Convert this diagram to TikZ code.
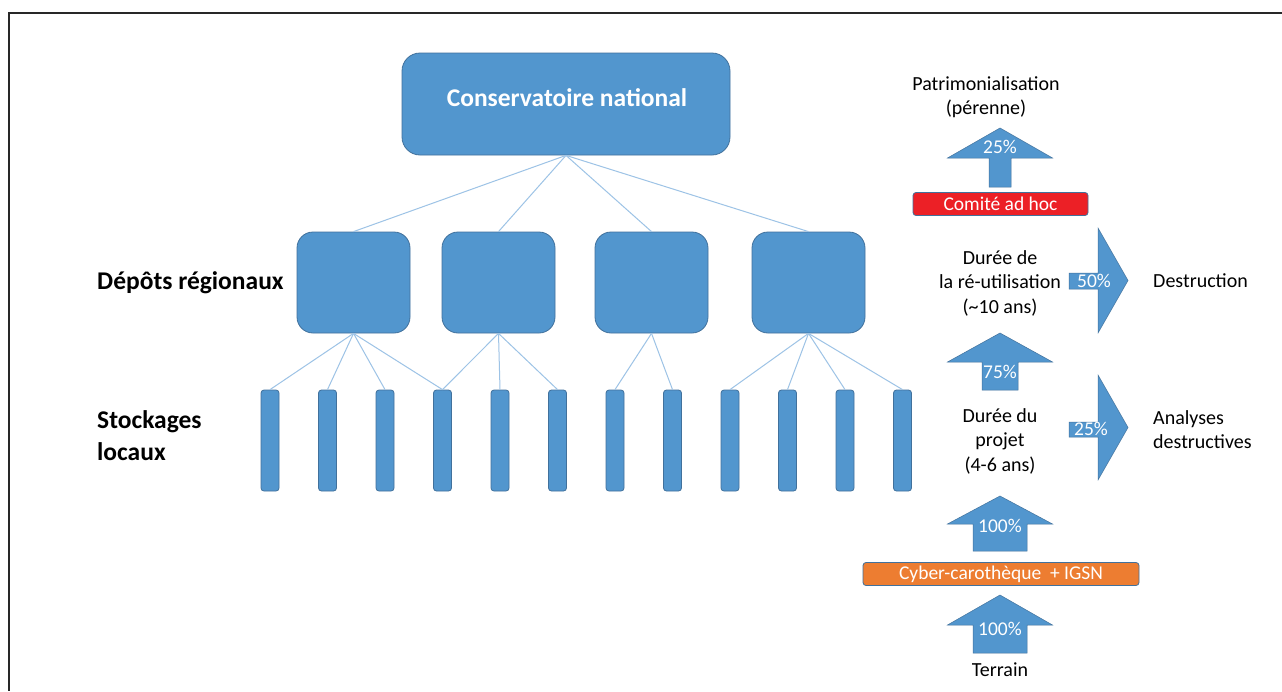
\documentclass[tikz,border=0pt]{standalone}
\usepackage{fontspec}
\setmainfont{Carlito}
\definecolor{cblue}{RGB}{82,150,206}
\definecolor{cedge}{RGB}{65,113,156}
\definecolor{clink}{RGB}{157,195,230}
\definecolor{cred}{RGB}{236,32,38}
\definecolor{corange}{RGB}{237,125,49}
\definecolor{cframe}{RGB}{40,40,40}
\newcommand\uparr[8]{% name, cx, tip, base, bottom, halfhead, halfshaft, label
  \fill[cblue,draw=cedge,line width=0.5pt] (#2-#7,#5) -- (#2-#7,#4) -- (#2-#6,#4) -- (#2,#3) -- (#2+#6,#4) -- (#2+#7,#4) -- (#2+#7,#5) -- cycle;
}
\newcommand\rtarr[8]{% name, left, headx, tipx, shafttop, shaftbot, headtop, headbot
  \fill[cblue,draw=cedge,line width=0.5pt] (#2,#5) -- (#3,#5) -- (#3,#7) -- (#4,{(#7+#8)/2}) -- (#3,#8) -- (#3,#6) -- (#2,#6) -- cycle;
}
\begin{document}
\begin{tikzpicture}[x=1pt,y=-1pt,
  blueshape/.style={fill=cblue,draw=cedge,line width=0.8pt,inner sep=0pt},
  consbox/.style={blueshape,rounded corners=18pt,minimum width=328pt,minimum height=102pt},
  regbox/.style={blueshape,rounded corners=16pt,minimum width=113pt,minimum height=101pt},
  stickbox/.style={blueshape,rounded corners=3pt,minimum width=18pt,minimum height=101pt},
  link/.style={draw=clink,line width=1pt},
  lvl/.style={font=\fontsize{25.5}{32}\selectfont\bfseries,align=left,anchor=west,inner sep=0pt},
  rtxt/.style={font=\fontsize{20}{24.5}\selectfont,align=center,inner sep=0pt},
  ltxt/.style={font=\fontsize{20}{24}\selectfont,align=left,anchor=west,inner sep=0pt},
  pct/.style={font=\fontsize{19.5}{22}\selectfont,text=white,inner sep=0pt},
  bar/.style={draw=cedge,line width=0.8pt,rounded corners=3pt,minimum height=23pt,inner sep=0pt,font=\fontsize{19.5}{22}\selectfont,text=white}
]
\useasboundingbox (0,0) rectangle (1282,691);
\fill[white] (0,0) rectangle (1282,691);
\draw[cframe,line width=2pt] (1282,13) -- (9,13) -- (9,691);

% conservatoire
\node[consbox] (cons) at (566,104) {};
\node[font=\fontsize{25.5}{30}\selectfont\bfseries,text=white,inner sep=0pt] (constxt) at (567,98) {Conservatoire national};

% regional
\foreach \i/\x in {1/353.5,2/498.5,3/651.5,4/808.5}{
  \node[regbox] (r\i) at (\x,282.5) {};
  \draw[link] (cons.south) -- (r\i.north);
}
% sticks
\foreach \i in {1,...,12}{
  \node[stickbox] (s\i) at ({270+57.5*(\i-1)},440.5) {};
}
\foreach \r/\s in {1/1,1/2,1/3,1/4,2/4,2/5,2/6,3/7,3/8,4/9,4/10,4/11,4/12}{
  \draw[link] (r\r.south) -- (s\s.north);
}

\node[lvl] (ldep) at (97,283) {Dépôts régionaux};
\node[lvl] (lsto) at (97,436) {Stockages\\locaux};

% right flow
\node[rtxt] (patri) at (986,97) {Patrimonialisation\\(pérenne)};
\uparr{a25}{1000}{128}{158}{187}{52.5}{11}{}
\node[pct] (p25) at (1000,147) {25\%};
\node[bar,fill=cred,minimum width=175pt] (comite) at (1000.5,204) {Comité ad hoc};

\node[rtxt] (reuse) at (1000,283) {Durée de\\la ré-utilisation\\(\textasciitilde10 ans)};
\rtarr{r50}{1069}{1098}{1128}{273}{289}{228}{333}
\node[pct] (p50) at (1094,281) {50\%};
\node[ltxt] (destr) at (1153,281) {Destruction};

\uparr{a75}{1000}{333}{362}{390}{52.5}{18}{}
\node[pct] (p75) at (1000,372) {75\%};

\node[rtxt] (projet) at (1000,441) {Durée du\\projet\\(4-6 ans)};
\rtarr{r25}{1069}{1098}{1128}{422}{437}{375}{480}
\node[pct] (p25b) at (1091,429) {25\%};
\node[ltxt] (analy) at (1153,430) {Analyses\\destructives};

\uparr{a100a}{1000}{496}{524}{551}{52.5}{27}{}
\node[pct] (p100a) at (1000,526) {100\%};
\node[bar,fill=corange,minimum width=276pt] (cyber) at (1001,574) {Cyber-carothèque \ + IGSN};

\uparr{a100b}{1000}{595}{625}{653}{52.5}{27}{}
\node[pct] (p100b) at (1000,629) {100\%};
\node[rtxt] (terrain) at (1000,670) {Terrain};
\end{tikzpicture}
\end{document}
